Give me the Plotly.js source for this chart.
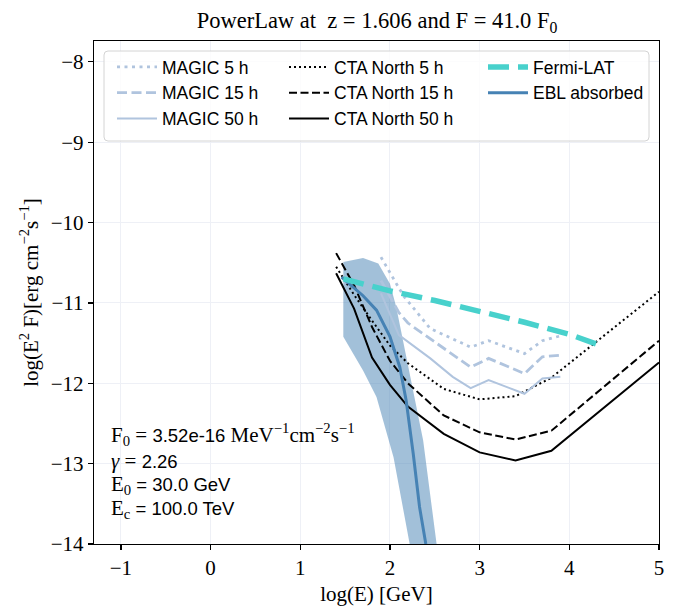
<!DOCTYPE html>
<html>
<head>
<meta charset="utf-8">
<script src="https://cdn.plot.ly/plotly-3.0.1.min.js"></script>
<style>html,body{margin:0;padding:0;background:#fff;}#chart{width:678px;height:608px;}</style>
</head>
<body>
<div id="chart"></div>
<script>
// ---- data (log10 E [GeV], log10 E^2 F [erg cm^-2 s^-1]) ----
const ctaX = [1.4, 1.6, 1.8, 2.0, 2.2, 2.6, 3.0, 3.4, 3.8, 4.2, 4.6, 5.0];
const cta5 = [-10.55, -10.90, -11.22, -11.53, -11.75, -12.07, -12.20, -12.16, -11.93, -11.57, -11.21, -10.86];
const cta15 = [-10.38, -10.78, -11.30, -11.72, -12.00, -12.40, -12.61, -12.70, -12.59, -12.22, -11.85, -11.47];
const cta50 = [-10.63, -11.07, -11.68, -12.02, -12.29, -12.63, -12.86, -12.96, -12.84, -12.47, -12.10, -11.74];

const magic5X = [1.90, 2.00, 2.15, 2.45, 2.90, 3.10, 3.50, 3.70, 3.90];
const magic5 = [-10.43, -10.62, -10.91, -11.32, -11.55, -11.47, -11.63, -11.47, -11.41];
const magic15X = [1.90, 2.10, 2.20, 2.90, 3.10, 3.50, 3.70, 3.90];
const magic15 = [-10.72, -11.12, -11.25, -11.80, -11.69, -11.88, -11.67, -11.65];
const magic50X = [1.90, 2.10, 2.45, 2.70, 2.90, 3.10, 3.50, 3.70, 3.90];
const magic50 = [-10.88, -11.40, -11.69, -11.92, -12.06, -11.96, -12.13, -11.94, -11.92];

const fermiX = [1.48, 2.0, 2.5, 3.0, 3.5, 4.0, 4.30];
const fermi = [-10.70, -10.85, -10.97, -11.10, -11.24, -11.39, -11.51];

const eblX = [1.46, 1.59, 1.70, 1.85, 2.00, 2.11, 2.18, 2.26, 2.33, 2.40];
const ebl = [-10.68, -10.80, -10.91, -11.09, -11.42, -11.80, -12.21, -12.88, -13.54, -14.0];

const bandUpX = [1.48, 1.70, 1.87, 2.00, 2.07, 2.22, 2.37, 2.52];
const bandUp = [-10.49, -10.44, -10.51, -10.76, -11.05, -11.88, -12.71, -14.0];
const bandLoX = [1.48, 1.70, 1.85, 2.04, 2.22];
const bandLo = [-11.42, -11.84, -12.17, -12.92, -14.0];

// ---- styling helpers ----
const W = 678, H = 608, ML = 94, MR = 19, MT = 41, MB = 64;
const PW = W - ML - MR, PH = H - MT - MB;
const pxX = p => (p - ML) / PW;
const pxY = p => (H - MB - p) / PH;
const SERIF = 'Liberation Serif, Times New Roman, serif';
const SANS = 'Liberation Sans, Arial, sans-serif';
const MAGIC_C = '#b0c4de', EBL_C = '#4682b4', FERMI_C = '#48d1cc';

const traces = [
  {x: bandUpX.concat(bandLoX.slice().reverse()), y: bandUp.concat(bandLo.slice().reverse()),
   type: 'scatter', mode: 'lines', fill: 'toself', fillcolor: 'rgba(70,130,180,0.5)',
   line: {width: 0, color: 'rgba(0,0,0,0)'}, showlegend: false, hoverinfo: 'skip'},
  {x: ctaX, y: cta5, name: 'CTA North 5 h', legend: 'legend2', legendgroup: 'c5', mode: 'lines',
   line: {color: '#000', width: 2, dash: '2px,3px'}},
  {x: ctaX, y: cta15, name: 'CTA North 15 h', legend: 'legend2', legendgroup: 'c15', mode: 'lines',
   line: {color: '#000', width: 2, dash: '8px,3.5px'}},
  {x: ctaX, y: cta50, name: 'CTA North 50 h', legend: 'legend2', legendgroup: 'c50', mode: 'lines',
   line: {color: '#000', width: 2}},
  {x: magic5X, y: magic5, name: 'MAGIC 5 h', legend: 'legend', legendgroup: 'm5', mode: 'lines',
   line: {color: MAGIC_C, width: 2.8, dash: '3px,4.5px'}},
  {x: magic15X, y: magic15, name: 'MAGIC 15 h', legend: 'legend', legendgroup: 'm15', mode: 'lines',
   line: {color: MAGIC_C, width: 2.8, dash: '10px,4.5px'}},
  {x: magic50X, y: magic50, name: 'MAGIC 50 h', legend: 'legend', legendgroup: 'm50', mode: 'lines',
   line: {color: MAGIC_C, width: 2}},
  {x: eblX, y: ebl, name: 'EBL absorbed', legend: 'legend3', legendgroup: 'e', legendrank: 2, mode: 'lines',
   line: {color: EBL_C, width: 3}},
  {x: fermiX, y: fermi, name: 'Fermi-LAT', legend: 'legend3', legendgroup: 'f', legendrank: 1, mode: 'lines',
   line: {color: FERMI_C, width: 5.5, dash: '21px,9px'}}
];

const legFont = {family: SANS, size: 17.5, color: '#000'};
function leg(xpx) {
  return {x: pxX(xpx), xanchor: 'left', y: pxY(49), yanchor: 'top', bgcolor: 'rgba(0,0,0,0)',
          borderwidth: 0, font: legFont, tracegroupgap: 7.5, traceorder: 'normal', itemwidth: 40};
}

// rounded legend frame
function roundRect(x0, y0, x1, y1, r) {
  const X = p => pxX(p), Y = p => pxY(p);
  return 'M' + X(x0 + r) + ',' + Y(y0) + ' L' + X(x1 - r) + ',' + Y(y0) +
    ' Q' + X(x1) + ',' + Y(y0) + ' ' + X(x1) + ',' + Y(y0 + r) +
    ' L' + X(x1) + ',' + Y(y1 - r) + ' Q' + X(x1) + ',' + Y(y1) + ' ' + X(x1 - r) + ',' + Y(y1) +
    ' L' + X(x0 + r) + ',' + Y(y1) + ' Q' + X(x0) + ',' + Y(y1) + ' ' + X(x0) + ',' + Y(y1 - r) +
    ' L' + X(x0) + ',' + Y(y0 + r) + ' Q' + X(x0) + ',' + Y(y0) + ' ' + X(x0 + r) + ',' + Y(y0) + ' Z';
}

const sf = s => '<span style="font-family:' + SERIF + ';font-size:21px">' + s + '</span>';
const infoLines = [
  sf('F<sub>0</sub> = ') + '3.52e-16 ' + sf('MeV<sup>−1</sup>cm<sup>−2</sup>s<sup>−1</sup>'),
  sf('<i>γ</i> = ') + '2.26',
  sf('E<sub>0</sub>') + ' = 30.0 GeV',
  sf('E<sub>c</sub>') + ' = 100.0 TeV'
];
const infoY = [434, 461, 485, 509];

const annotations = infoLines.map((t, i) => ({
  text: t, xref: 'paper', yref: 'paper', x: pxX(109), y: pxY(infoY[i]),
  xanchor: 'left', yanchor: 'middle', showarrow: false,
  font: {family: SANS, size: 18.5, color: '#000'}
}));

const axisCommon = {
  showline: true, mirror: true, linecolor: '#000', linewidth: 1.2,
  ticks: 'outside', ticklen: 5, tickwidth: 1.2, tickcolor: '#000',
  showgrid: true, gridcolor: '#eef0f6', gridwidth: 1, zeroline: false,
  tickfont: {family: SERIF, size: 21, color: '#000'}, dtick: 1
};

const layout = {
  width: W, height: H,
  margin: {l: ML, r: MR, t: MT, b: MB, pad: 0},
  paper_bgcolor: '#fff', plot_bgcolor: '#fff',
  title: {text: 'PowerLaw at  z = 1.606 and F = 41.0 F<sub>0</sub>',
          font: {family: SERIF, size: 22.5, color: '#000'},
          x: pxX(377), xref: 'paper', xanchor: 'center', y: 1 - 20 / H, yanchor: 'middle'},
  xaxis: Object.assign({}, axisCommon, {range: [-1.30, 5.0], tick0: 0,
          title: {text: 'log(E) [GeV]', font: {family: SERIF, size: 21, color: '#000'}, standoff: 6}}),
  yaxis: Object.assign({}, axisCommon, {range: [-14, -7.74], tick0: 0,
          title: {text: 'log(E<sup>2</sup> F)[erg cm<sup>−2</sup>s<sup>−1</sup>]',
                  font: {family: SERIF, size: 21, color: '#000'}, standoff: 6}}),
  legend: leg(112), legend2: leg(284), legend3: leg(483),
  shapes: [{type: 'path', xref: 'paper', yref: 'paper', path: roundRect(104, 51, 649, 141, 4),
            fillcolor: 'rgba(255,255,255,0.8)', line: {color: '#d4d4d4', width: 1}, layer: 'above'}],
  annotations: annotations,
  showlegend: true
};

Plotly.newPlot('chart', traces, layout, {displayModeBar: false, staticPlot: true});
</script>
</body>
</html>
